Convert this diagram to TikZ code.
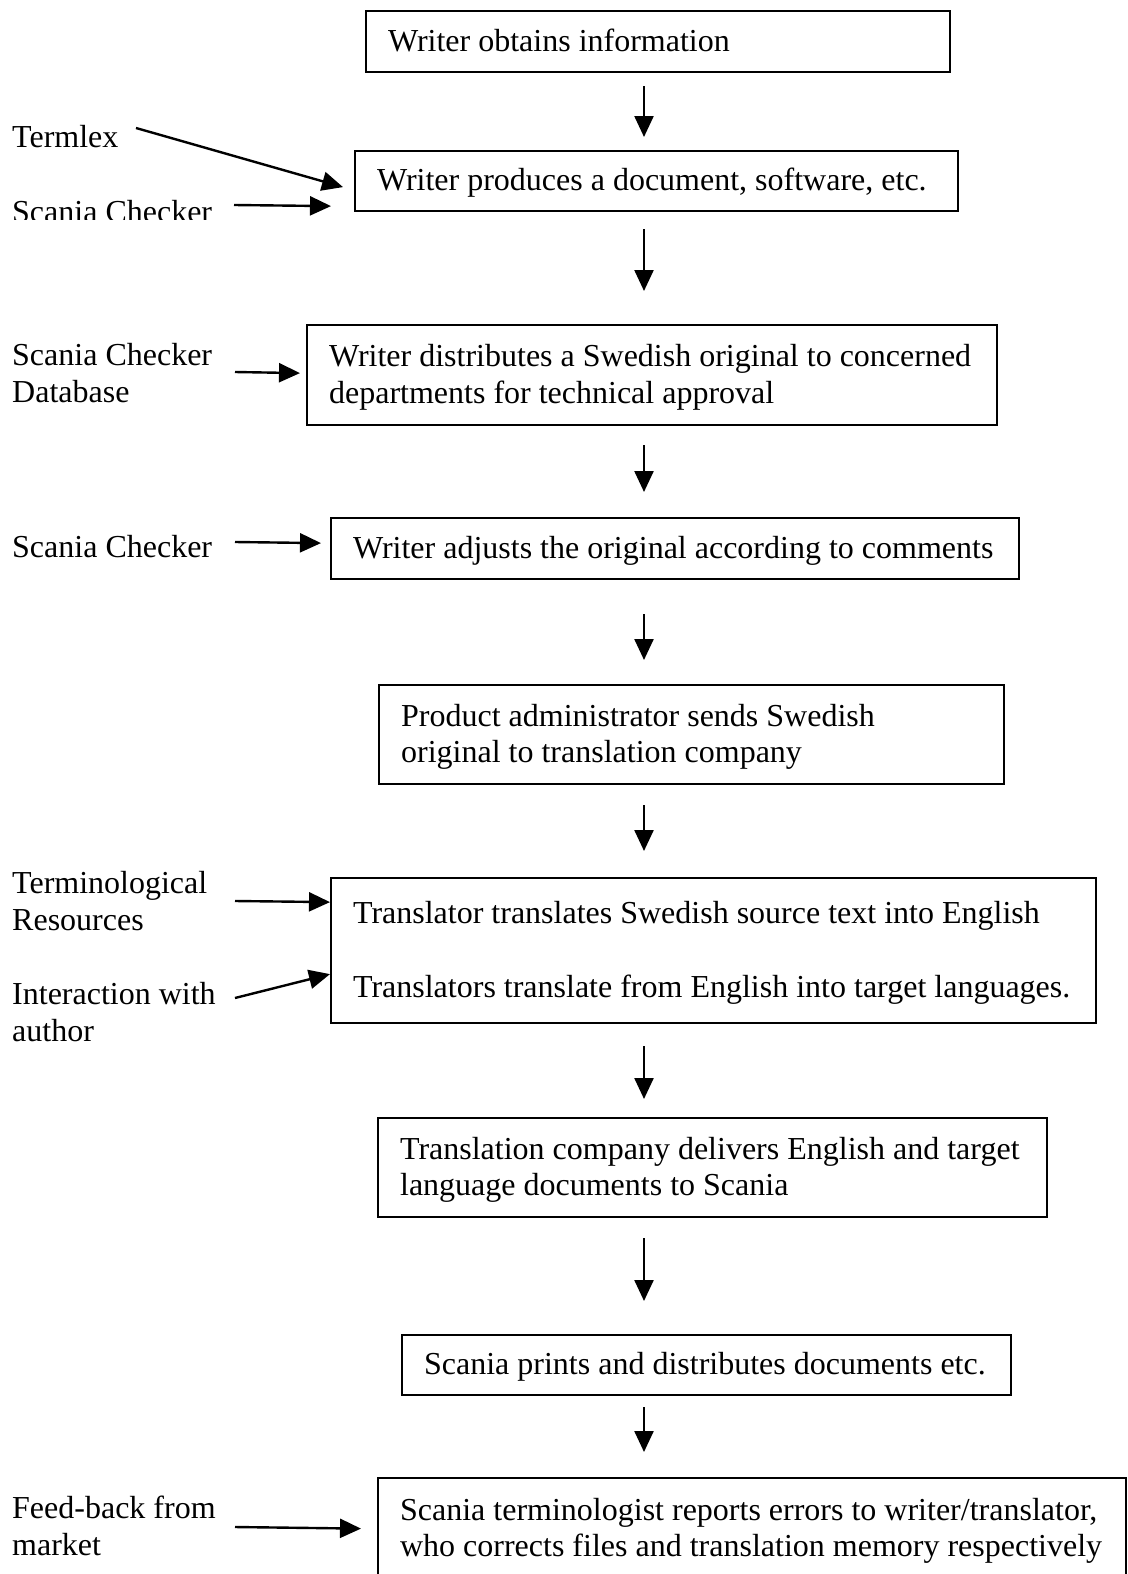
\documentclass[tikz,border=0pt]{standalone}
\usepackage{fontspec}
\setmainfont{Liberation Serif}
\usetikzlibrary{arrows.meta}
\tikzset{
  box/.style n args={2}{draw, line width=2.2pt, anchor=north west,
    minimum width=#1pt, minimum height=#2pt, text width=#1pt-44pt,
    inner xsep=22pt, inner ysep=0pt, align=left},
  lbl/.style={inner sep=0pt, align=left, anchor=west},
  arr/.style={line width=2.4pt, -{Triangle[length=21pt,width=19pt]}},
}
\newcommand{\boxlines}[1]{\spaceskip=0pt\xspaceskip=0pt\raisebox{0pt}[\dimexpr\height+5pt\relax][\depth]{\begin{tabular}{@{}l@{}}#1\end{tabular}}}
\begin{document}
\begin{tikzpicture}[x=1pt, y=-1pt, font=\fontsize{32}{36.7}\selectfont]
\useasboundingbox (0,0) rectangle (1127,1574);
\clip (0,0) rectangle (1127,1574);
\fill[white] (0,0) rectangle (1127,1574);

% boxes
\node[box={584}{61}] (b1) at (365,10) {\boxlines{Writer obtains information}};
\node[box={603}{60}] (b2) at (354,150) {\boxlines{Writer produces a document, software, etc.}};
\node[box={690}{100}] (b3) at (306,324) {\boxlines{Writer distributes a Swedish original to concerned\\departments for technical approval}};
\node[box={688}{61}] (b4) at (330,517) {\boxlines{Writer adjusts the original according to comments}};
\node[box={625}{99}] (b5) at (378,684) {\boxlines{Product administrator sends Swedish\\original to translation company}};
\node[box={765}{145}] (b6) at (330,877) {\boxlines{Translator translates Swedish source text into English\\ \\Translators translate from English into target languages.}};
\node[box={669}{99}] (b7) at (377,1117) {\boxlines{Translation company delivers English and target\\language documents to Scania}};
\node[box={609}{60}] (b8) at (401,1334) {\boxlines{Scania prints and distributes documents etc.}};
\node[box={748}{101}] (b9) at (377,1477) {\boxlines{Scania terminologist reports errors to writer/translator,\\who corrects files and translation memory respectively}};

% left labels
\node[lbl] (termlex) at (12,137) {Termlex};
\begin{scope}
  \clip (0,190) rectangle (330,219.5);
  \node[inner sep=0pt, anchor=base west] (sc1) at (12,222) {Scania Checker};
\end{scope}
\node[lbl] (scdb) at (12,373) {Scania Checker\\Database};
\node[lbl] (sc2) at (12,547) {Scania Checker};
\node[lbl] (term) at (12,901) {Terminological\\Resources};
\node[lbl] (inter) at (12,1012) {Interaction with\\author};
\node[lbl] (feed) at (12,1526) {Feed-back from\\market};

% vertical arrows
\coordinate (ax) at (644,0);
\draw[arr, shorten <=13pt, shorten >=13pt] (b1.south -| ax) -- (b2.north -| ax);
\draw[arr, shorten <=17pt, shorten >=33pt] (b2.south -| ax) -- (b3.north -| ax);
\draw[arr, shorten <=19pt, shorten >=25pt] (b3.south -| ax) -- (b4.north -| ax);
\draw[arr, shorten <=34pt, shorten >=24pt] (b4.south -| ax) -- (b5.north -| ax);
\draw[arr, shorten <=20pt, shorten >=26pt] (b5.south -| ax) -- (b6.north -| ax);
\draw[arr, shorten <=22pt, shorten >=18pt] (b6.south -| ax) -- (b7.north -| ax);
\draw[arr, shorten <=20pt, shorten >=33pt] (b7.south -| ax) -- (b8.north -| ax);
\draw[arr, shorten <=11pt, shorten >=25pt] (b8.south -| ax) -- (b9.north -| ax);

% side arrows
\coordinate (sTermlex) at (136,128);
\coordinate (sSc1) at (234,205);
\coordinate (sScdb) at (235,372);
\coordinate (sSc2) at (235,542);
\coordinate (sTerm) at (235,901);
\coordinate (sInter) at (235,998);
\coordinate (sFeed) at (235,1527);
\draw[arr] (sTermlex) -- ([shift={(-11,6)}]b2.west);
\draw[arr] (sSc1) -- ([shift={(-23,25)}]b2.west);
\draw[arr] (sScdb) -- ([shift={(-6,-2)}]b3.west);
\draw[arr] (sSc2) -- ([shift={(-9,-5.5)}]b4.west);
\draw[arr] (sTerm) -- ([shift={(0,-48.5)}]b6.west);
\draw[arr] (sInter) -- ([shift={(0,23.5)}]b6.west);
\draw[arr] (sFeed) -- ([shift={(-16,0)}]b9.west);
\end{tikzpicture}
\end{document}
